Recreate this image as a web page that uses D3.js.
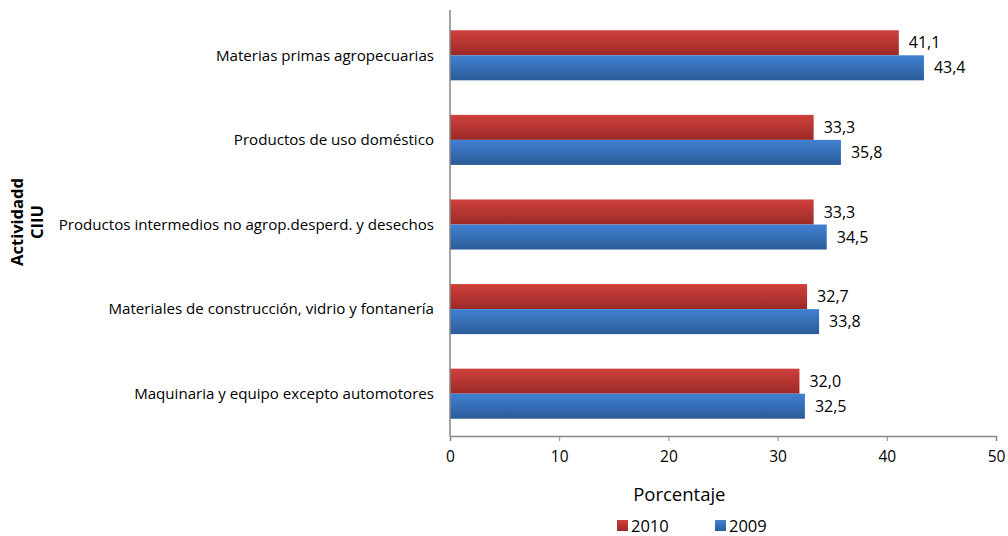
<!DOCTYPE html>
<html>
<head>
<meta charset="utf-8">
<script src="https://cdn.jsdelivr.net/npm/d3@7"></script>
<style>
  body { margin: 0; background: #fff; }
  svg { font-family: "Open Sans", "Noto Sans", sans-serif; }
</style>
</head>
<body>
<script>
const categories = [
    "Materias primas agropecuarias",
    "Productos de uso doméstico",
    "Productos intermedios no agrop.desperd. y desechos",
    "Materiales de construcción, vidrio y fontanería",
    "Maquinaria y equipo excepto automotores"
];
const values2010 = [41.1, 33.3, 33.3, 32.7, 32.0];
const values2009 = [43.4, 35.8, 34.5, 33.8, 32.5];
const seriesNames = ["2010", "2009"];
const xTicks = [0, 10, 20, 30, 40, 50];

const width = 1008, height = 536;
const margin = { top: 13, right: 12, bottom: 100, left: 450 };
const innerW = width - margin.left - margin.right,
    innerH = height - margin.top - margin.bottom;

const svg = d3.select("body").append("svg")
    .attr("width", width)
    .attr("height", height);

// gradients
const defs = svg.append("defs");
const grads = [
    { id: "gRed", top: "#d0403c", bottom: "#9b2a27" },
    { id: "gBlue", top: "#4081d3", bottom: "#2c5b98" }
];
grads.forEach(g => {
    const lg = defs.append("linearGradient")
        .attr("id", g.id)
        .attr("x1", 0).attr("y1", 0).attr("x2", 0).attr("y2", 1);
    lg.append("stop").attr("offset", "0%").attr("stop-color", g.top);
    lg.append("stop").attr("offset", "100%").attr("stop-color", g.bottom);
});

const g = svg.append("g")
    .attr("transform", "translate(" + margin.left + "," + margin.top + ")");

const xScale = d3.scaleLinear().domain([0, 50]).range([0, 546]);
const yScale = d3.scaleBand().domain(categories).range([0, innerH]);
const subScale = d3.scaleBand().domain(seriesNames)
    .range([0, yScale.bandwidth()]).paddingOuter(0.69);

const fmt = v => d3.format(".1f")(v).replace(".", ",");

const data = categories.map((c, i) => ({
    cat: c,
    vals: [
        { s: "2010", v: values2010[i], fill: "url(#gRed)" },
        { s: "2009", v: values2009[i], fill: "url(#gBlue)" }
    ]
}));

const groups = g.selectAll(".cat")
    .data(data)
    .enter()
    .append("g")
    .attr("transform", d => "translate(0," + yScale(d.cat) + ")");

groups.selectAll("rect")
    .data(d => d.vals)
    .enter()
    .append("rect")
    .attr("x", 0)
    .attr("y", d => subScale(d.s))
    .attr("width", d => xScale(d.v))
    .attr("height", subScale.bandwidth())
    .attr("fill", d => d.fill);

groups.selectAll("text.val")
    .data(d => d.vals)
    .enter()
    .append("text")
    .attr("class", "val")
    .attr("x", d => xScale(d.v) + 10)
    .attr("y", d => subScale(d.s) + subScale.bandwidth() / 2)
    .attr("dy", "0.35em")
    .attr("font-size", 16)
    .attr("fill", "#000")
    .text(d => fmt(d.v));

// category labels
g.selectAll("text.cat")
    .data(categories)
    .enter()
    .append("text")
    .attr("class", "cat")
    .attr("x", -16)
    .attr("y", d => yScale(d) + yScale.bandwidth() / 2)
    .attr("dy", "0.35em")
    .attr("text-anchor", "end")
    .attr("font-size", 15.1)
    .attr("fill", "#000")
    .text(d => d);

// x axis
const xAxis = d3.axisBottom(xScale).tickValues(xTicks).tickSize(5).tickPadding(10);
const xg = g.append("g")
    .attr("transform", "translate(0," + innerH + ")")
    .call(xAxis);
xg.select(".domain").attr("stroke", "#868686").attr("stroke-width", 1.5);
xg.selectAll(".tick line").attr("stroke", "#868686");
xg.selectAll(".tick text")
    .attr("font-size", 15.5)
    .attr("font-family", "Open Sans, Noto Sans, sans-serif")
    .attr("fill", "#000");

// y axis line
g.append("line")
    .attr("x1", 0).attr("x2", 0)
    .attr("y1", -3).attr("y2", innerH)
    .attr("stroke", "#868686")
    .attr("stroke-width", 1.5);

// axis titles
svg.append("text")
    .attr("x", margin.left + xScale(21))
    .attr("y", 501)
    .attr("text-anchor", "middle")
    .attr("font-size", 18.5)
    .text("Porcentaje");

const yTitle = svg.append("text")
    .attr("transform", "translate(23,222) rotate(-90)")
    .attr("text-anchor", "middle")
    .attr("font-size", 16.5)
    .attr("font-weight", "bold");
yTitle.append("tspan").attr("x", 0).attr("dy", 0).text("Actividadd");
yTitle.append("tspan").attr("x", 0).attr("dy", 20).text("CIIU");

// legend
const legend = svg.append("g")
    .attr("transform", "translate(617,520)");
const legItems = [
    { name: seriesNames[0], fill: "url(#gRed)", x: 0 },
    { name: seriesNames[1], fill: "url(#gBlue)", x: 98 }
];
const li = legend.selectAll("g")
    .data(legItems)
    .enter()
    .append("g")
    .attr("transform", d => "translate(" + d.x + ",0)");
li.append("rect")
    .attr("x", 0).attr("y", 0)
    .attr("width", 11).attr("height", 11)
    .attr("fill", d => d.fill);
li.append("text")
    .attr("x", 14)
    .attr("y", 6)
    .attr("dy", "0.35em")
    .attr("font-size", 16.5)
    .text(d => d.name);
</script>
</body>
</html>
